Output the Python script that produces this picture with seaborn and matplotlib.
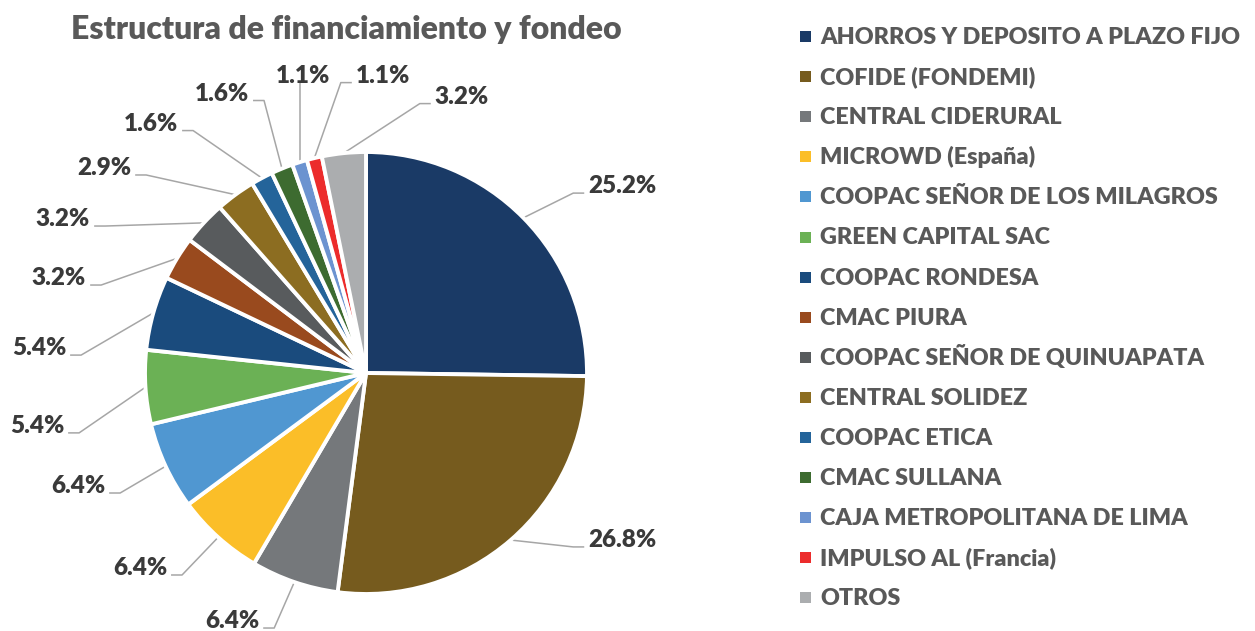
import numpy as np
import matplotlib
matplotlib.use("Agg")
import matplotlib.pyplot as plt
import seaborn as sns
from matplotlib.patches import Rectangle

# ---------------- data ----------------
title = "Estructura de financiamiento y fondeo"
categories = [
    "AHORROS Y DEPOSITO A PLAZO FIJO",
    "COFIDE (FONDEMI)",
    "CENTRAL CIDERURAL",
    "MICROWD (España)",
    "COOPAC SEÑOR DE LOS MILAGROS",
    "GREEN CAPITAL SAC",
    "COOPAC RONDESA",
    "CMAC PIURA",
    "COOPAC SEÑOR DE QUINUAPATA",
    "CENTRAL SOLIDEZ",
    "COOPAC ETICA",
    "CMAC SULLANA",
    "CAJA METROPOLITANA DE LIMA",
    "IMPULSO AL (Francia)",
    "OTROS",
]
shares = [25.2, 26.8, 6.4, 6.4, 6.4, 5.4, 5.4, 3.2, 3.2, 2.9, 1.6, 1.6, 1.1, 1.1, 3.2]
value_labels = [f"{v:.1f}%" for v in shares]
colors_hex = [
    "#1A3A66", "#765B1E", "#75787B", "#FBBE28", "#5097D1",
    "#6BB155", "#1A4B7D", "#994A1E", "#585B5D", "#8C6D21",
    "#24649A", "#3D6B30", "#6C93D0", "#EC2C2C", "#ABADAF",
]

# ---------------- layout (not data) ----------------
W, H = 1255, 631
CX, CY, R = 366, 373, 221
# label anchor: text center x, baseline y, in pie-radius units from the centre
LABEL_XY = [
    (1.160, 0.814), (1.160, -0.787), (-0.606, -1.154), (-1.023, -0.914),
    (-1.303, -0.543), (-1.489, -0.271), (-1.480, 0.081), (-1.389, 0.398),
    (-1.371, 0.665), (-1.185, 0.896), (-0.973, 1.097), (-0.652, 1.233),
    (-0.285, 1.314), (0.077, 1.314), (0.434, 1.219),
]

sns.set_theme(style="white")
plt.rcParams["font.family"] = ["Lato", "DejaVu Sans"]
palette = sns.color_palette(colors_hex)
WEIGHT = "heavy"

fig = plt.figure(figsize=(W / 100, H / 100), dpi=100)
fig.patch.set_facecolor("white")
ax = fig.add_axes([0, 0, 1, 1])
wedges, _ = ax.pie(
    shares, colors=palette, startangle=90, counterclock=False,
    normalize=True, radius=1,
    wedgeprops=dict(edgecolor="white", linewidth=2.8),
)
ax.set_aspect("auto")
ax.set_xlim(-CX / R, (W - CX) / R)
ax.set_ylim(-(H - CY) / R, CY / R)
ax.axis("off")

texts = []
for (lx, ly), s in zip(LABEL_XY, value_labels):
    t = ax.text(lx, ly, s, ha="center", va="baseline", fontsize=17.5,
                fontweight=WEIGHT, color="#3A3A3A")
    texts.append(t)

fig.canvas.draw()
renderer = fig.canvas.get_renderer()
inv = ax.transData.inverted()
gap, elbow = 4 / R, 11 / R
for w, t, (lx, ly) in zip(wedges, texts, LABEL_XY):
    ang = np.deg2rad((w.theta1 + w.theta2) / 2)
    ex, ey = np.cos(ang), np.sin(ang)
    bb = t.get_window_extent(renderer).transformed(inv)
    if bb.x0 > ex:
        axp = bb.x0 - gap
        bxp = axp - elbow
    elif bb.x1 < ex:
        axp = bb.x1 + gap
        bxp = axp + elbow
    else:
        axp = bxp = ex
    ax.plot([ex, bxp, axp], [ey, ly, ly], color="#A6A6A6", lw=1.1,
            solid_capstyle="butt", zorder=0.5)

fig.text(346 / W, 1 - 39 / H, title, ha="center", va="baseline",
         fontsize=23, fontweight=WEIGHT, color="#595959")

for i, (name, c) in enumerate(zip(categories, palette)):
    yb = 44 + 40.1 * i
    fig.add_artist(Rectangle((800 / W, 1 - (42 + 40.1 * i) / H), 11 / W, 11 / H,
                             transform=fig.transFigure, facecolor=c,
                             edgecolor="none"))
    fig.text(820 / W, 1 - yb / H, name, ha="left", va="baseline",
             fontsize=16.8, fontweight=WEIGHT, color="#595959")

fig.savefig("out.png", dpi=100, facecolor="white")
